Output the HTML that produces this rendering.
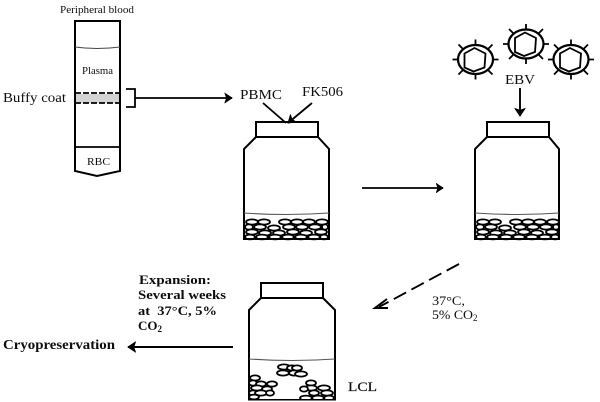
<!DOCTYPE html>
<html><head><meta charset="utf-8"><style>
html,body{margin:0;padding:0;background:#fff}
svg{display:block}
text{font-family:"Liberation Serif",serif;fill:#111}
.b{font-weight:bold}
</style></head><body>
<svg width="600" height="402" viewBox="0 0 600 402" xmlns="http://www.w3.org/2000/svg">
<defs>
<filter id="s" x="0" y="0" width="100%" height="100%"><feGaussianBlur stdDeviation="0.35"/></filter>
<marker id="a" markerWidth="5" markerHeight="6" refX="4.2" refY="3" orient="auto"><path d="M0.3 0.4L4.2 3L0.3 5.6L1.2 3Z" fill="#000" stroke="#000" stroke-width="0.5"/></marker>
<g id="cells" fill="#fff" stroke="#000" stroke-width="1.8">
<ellipse cx="7" cy="3" rx="6" ry="2.6"/><ellipse cx="19" cy="3" rx="6" ry="2.6"/><ellipse cx="40" cy="3" rx="6" ry="2.6"/><ellipse cx="52" cy="3" rx="6" ry="2.6"/><ellipse cx="64" cy="3" rx="6" ry="2.6"/><ellipse cx="77" cy="3" rx="6" ry="2.6"/>
<ellipse cx="4" cy="8" rx="4" ry="2.6"/><ellipse cx="15" cy="8" rx="6" ry="2.6"/><ellipse cx="29" cy="9" rx="6" ry="2.6"/><ellipse cx="44" cy="8" rx="6" ry="2.6"/><ellipse cx="57" cy="8" rx="6" ry="2.6"/><ellipse cx="70" cy="8" rx="6" ry="2.6"/><ellipse cx="80" cy="8" rx="3" ry="2.6"/>
<ellipse cx="7" cy="13" rx="6" ry="2.6"/><ellipse cx="20" cy="14" rx="6" ry="2.6"/><ellipse cx="34" cy="14" rx="6" ry="2.6"/><ellipse cx="48" cy="13" rx="6" ry="2.6"/><ellipse cx="61" cy="14" rx="6" ry="2.6"/><ellipse cx="76" cy="13" rx="6" ry="2.6"/>
<ellipse cx="5" cy="18" rx="5" ry="2.4"/><ellipse cx="17" cy="18" rx="6" ry="2.4"/><ellipse cx="30" cy="18" rx="6" ry="2.4"/><ellipse cx="43" cy="18" rx="6" ry="2.4"/><ellipse cx="56" cy="18" rx="6" ry="2.4"/><ellipse cx="69" cy="18" rx="6" ry="2.4"/><ellipse cx="79" cy="18" rx="4" ry="2.4"/>
</g>
<g id="v" fill="none" stroke="#000">
<ellipse cx="0" cy="0" rx="17.5" ry="14.5" stroke-width="2.2"/>
<path d="M-1 -11.5L10 -6L9 8L-2 12L-11 8L-11 -6Z" stroke-width="1.8"/>
<path d="M-23 0H-17M17 0H23M0 -20V-14M0 14V20M-17 -15L-12 -10M17 -15L12 -10M-17 15L-12 10M17 15L12 10" stroke-width="1.8"/>
</g>
</defs>
<g filter="url(#s)">
<!-- Tube -->
<rect x="76" y="94" width="43" height="9" fill="#d4d4d4"/>
<path d="M75 21H120V171L97 176L75 171Z" fill="none" stroke="#000" stroke-width="2"/>
<path d="M75 47Q97 50 120 47" fill="none" stroke="#444" stroke-width="1.1"/>
<path d="M75 93H120M75 103H120" stroke="#000" stroke-width="1.8" stroke-dasharray="6 2" fill="none"/>
<path d="M75 147H120" stroke="#000" stroke-width="1.8"/>
<path d="M126 89H135V107H126" fill="none" stroke="#000" stroke-width="1.8"/>
<path d="M135 98H232" stroke="#000" stroke-width="1.8" fill="none" marker-end="url(#a)"/>
<text x="60" y="13" font-size="10" textLength="74" lengthAdjust="spacingAndGlyphs">Peripheral blood</text>
<text x="82" y="74" font-size="10.5" textLength="31" lengthAdjust="spacingAndGlyphs">Plasma</text>
<text x="87" y="165" font-size="11" textLength="23" lengthAdjust="spacingAndGlyphs">RBC</text>
<text x="3" y="102" font-size="14" textLength="63" lengthAdjust="spacingAndGlyphs">Buffy coat</text>
<text x="240" y="99" font-size="13.5" textLength="42" lengthAdjust="spacingAndGlyphs">PBMC</text>
<text x="302" y="96" font-size="13.5" textLength="41" lengthAdjust="spacingAndGlyphs">FK506</text>
<path d="M263 103L286 123M312 103L288 123" stroke="#000" stroke-width="1.8" fill="none" marker-end="url(#a)"/>

<!-- Jar 1 -->
<use href="#cells" x="245" y="219"/>
<path d="M256 122H318V137H256ZM256 137L244 149V239H329V149L318 137" fill="none" stroke="#000" stroke-width="2"/>
<path d="M244 213Q286 216 329 213" fill="none" stroke="#555" stroke-width="1.1"/>
<path d="M362 188H443" stroke="#000" stroke-width="1.7" fill="none" marker-end="url(#a)"/>

<!-- Jar 2 -->
<use href="#cells" x="476" y="219"/>
<path d="M487 122H549V137H487ZM487 137L475 149V239H559V149L549 137" fill="none" stroke="#000" stroke-width="2"/>
<path d="M475 213Q517 216 559 213" fill="none" stroke="#555" stroke-width="1.1"/>
<use href="#v" x="475.5" y="59.5"/>
<use href="#v" x="526" y="44"/>
<use href="#v" x="571" y="59.5"/>
<text x="505" y="84" font-size="13.5" textLength="30" lengthAdjust="spacingAndGlyphs">EBV</text>
<path d="M520 88V116" stroke="#000" stroke-width="1.9" fill="none" marker-end="url(#a)"/>

<!-- Dashed arrow -->
<path d="M459 264L379 307" stroke="#000" stroke-width="1.9" stroke-dasharray="14 6" fill="none"/>
<path d="M387 299L375 308L388 308" stroke="#000" stroke-width="2" fill="none"/>
<text x="432" y="305" font-size="13" textLength="33" lengthAdjust="spacingAndGlyphs">37°C,</text>
<text x="432" y="319" font-size="13" textLength="41" lengthAdjust="spacingAndGlyphs">5% CO</text>
<text x="473" y="321" font-size="9">2</text>

<!-- Jar 3 -->
<path d="M261 283H323V298H261ZM261 298L249 310V400H335V310L323 298" fill="none" stroke="#000" stroke-width="2"/>
<path d="M249 359Q292 362 335 359" fill="none" stroke="#555" stroke-width="1.1"/>
<g fill="#fff" stroke="#000" stroke-width="1.8">
<ellipse cx="284" cy="367" rx="6" ry="2.6"/><ellipse cx="292" cy="368" rx="5" ry="2.6"/><ellipse cx="297" cy="368" rx="5" ry="2.6"/>
<ellipse cx="283" cy="373" rx="6" ry="2.6"/><ellipse cx="294" cy="373" rx="5" ry="2.6"/><ellipse cx="301" cy="374" rx="6" ry="2.6"/>
<ellipse cx="255" cy="378" rx="5" ry="2.6"/><ellipse cx="253" cy="383" rx="4" ry="2.6"/><ellipse cx="261" cy="384" rx="5" ry="2.6"/><ellipse cx="272" cy="384" rx="5" ry="2.6"/>
<ellipse cx="257" cy="388" rx="6" ry="2.6"/><ellipse cx="267" cy="389" rx="5" ry="2.6"/><ellipse cx="253" cy="393" rx="4" ry="2.6"/><ellipse cx="261" cy="393" rx="6" ry="2.6"/><ellipse cx="270" cy="393" rx="4" ry="2.6"/><ellipse cx="254" cy="397" rx="5" ry="2.4"/>
<ellipse cx="311" cy="383" rx="5" ry="2.6"/><ellipse cx="324" cy="388" rx="6" ry="2.6"/><ellipse cx="311" cy="388" rx="6" ry="2.6"/>
<ellipse cx="304" cy="389" rx="4" ry="2.6"/><ellipse cx="314" cy="393" rx="5" ry="2.6"/><ellipse cx="327" cy="393" rx="6" ry="2.6"/>
<ellipse cx="306" cy="398" rx="6" ry="2.4"/><ellipse cx="318" cy="398" rx="6" ry="2.4"/><ellipse cx="329" cy="398" rx="5" ry="2.4"/>
</g>
<path d="M249 400H335" stroke="#000" stroke-width="2"/>
<text x="348" y="391" font-size="13" textLength="29" lengthAdjust="spacingAndGlyphs" style="stroke:#111;stroke-width:.2">LCL</text>

<!-- Left text -->
<text class="b" x="139" y="284" font-size="13" textLength="72" lengthAdjust="spacingAndGlyphs">Expansion:</text>
<text class="b" x="138" y="299" font-size="13" textLength="88" lengthAdjust="spacingAndGlyphs">Several weeks</text>
<text class="b" x="138" y="315" font-size="13" xml:space="preserve" textLength="79" lengthAdjust="spacingAndGlyphs">at  37°C, 5%</text>
<text class="b" x="138" y="330" font-size="13">CO<tspan font-size="9" dy="2">2</tspan></text>
<text class="b" x="3" y="349" font-size="13.5" textLength="112" lengthAdjust="spacingAndGlyphs">Cryopreservation</text>
<path d="M233 347H128" stroke="#000" stroke-width="1.9" fill="none" marker-end="url(#a)"/>
</g>
</svg>
</body></html>
